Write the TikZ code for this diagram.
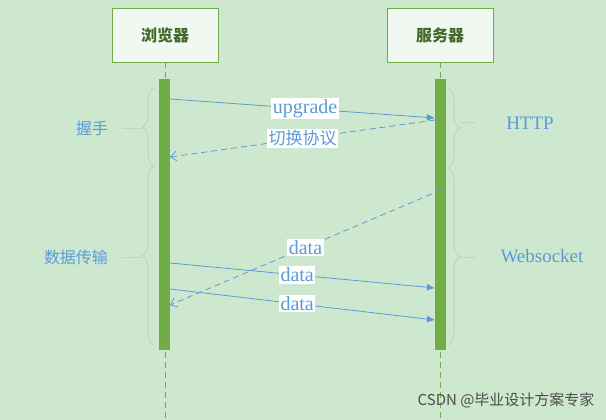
\documentclass[tikz,border=0pt]{standalone}
\usepackage{fontspec}
\setmainfont{Liberation Serif}
\newfontfamily\cjk{Noto Sans CJK SC}
\usetikzlibrary{arrows.meta,decorations.pathreplacing}
\definecolor{bg}{HTML}{CDE8CF}
\definecolor{lg}{HTML}{70AD47}
\definecolor{ab}{HTML}{5B9BD5}
\definecolor{br}{HTML}{C9CDC9}
\tikzset{
 hbox/.style={draw=lg,fill=white!70!bg,minimum width=106pt,minimum height=54pt,font=\cjk\bfseries\fontsize{16}{19}\selectfont,text=lg!60!black},
 bar/.style={fill=lg,draw=none,minimum width=11pt,inner sep=0},
 life/.style={draw=lg,dash pattern=on 6pt off 4pt,line width=0.8pt},
 msg/.style={draw=ab,-{Latex[length=8pt,width=7pt]},line width=0.8pt},
 rmsg/.style={draw=ab,dash pattern=on 6pt off 4pt,-{Straight Barb[length=6pt,width=10pt]},line width=0.8pt},
 lab/.style={fill=white,text=ab,inner sep=1.5pt,font=\fontsize{20}{22}\selectfont},
 clab/.style={fill=white,text=ab,inner sep=1.5pt,font=\cjk\fontsize{17}{20}\selectfont},
 side/.style={text=ab,font=\fontsize{19}{22}\selectfont},
 cside/.style={text=ab,font=\cjk\fontsize{16}{19}\selectfont},
 brc/.style={draw=br,line width=1pt,decorate,decoration={brace,amplitude=12pt,aspect=0.5}},
}
\begin{document}
\begin{tikzpicture}[x=1pt,y=-1pt]
\fill[bg] (0,0) rectangle (606,420);
\useasboundingbox (0,0) rectangle (606,420);
\node[hbox] (b) at (165,35) {浏览器};
\node[hbox] (s) at (440,35) {服务器};
\coordinate (be) at (165,420); \coordinate (se) at (440,420);
\draw[life] (b.south) -- (be);
\draw[life] (s.south) -- (se);
\node[bar,minimum height=271pt] (bb) at (164.5,214.5) {};
\node[bar,minimum height=271pt] (sb) at (440.5,214.5) {};
% braces
\coordinate (l1) at (154,88); \coordinate (l2) at (154,166); \coordinate (l3) at (154,345);
\draw[brc] (l2) -- (l1);
\draw[brc] (l3) -- (l2);
\coordinate (r1) at (448,88); \coordinate (r2) at (448,168); \coordinate (r3) at (448,345);
\draw[brc] (r1) -- (r2);
\draw[brc] (r2) -- (r3);
\node[cside] (hs) at (92,128) {握手};
\node[cside] (dt) at (76,257) {数据传输};
\node[side] (http) at (530,123) {HTTP};
\node[side] (ws) at (542,256) {Websocket};
\coordinate (t1) at (142,128); \coordinate (t2) at (142,257);
\coordinate (t3) at (460,122); \coordinate (t4) at (460,257);
\draw[br] (hs.east) ++(10,0) -- (t1);
\draw[br] (dt.east) ++(10,0) -- (t2);
\draw[br] (t3) -- ++(15,0);
\draw[br] (t4) -- ++(15,0);
% messages
\coordinate (a1) at (170,99); \coordinate (a2) at (435,118);
\draw[msg] (a1) -- node[lab,pos=0.51] {upgrade} (a2);
\coordinate (c1) at (435,120); \coordinate (c2) at (170,157);
\draw[rmsg] (c1) -- node[clab,pos=0.5] {切换协议} (c2);
\coordinate (d1) at (441,190); \coordinate (d2) at (170,305);
\coordinate (e1) at (170,263); \coordinate (e2) at (435,288);
\coordinate (f1) at (170,289); \coordinate (f2) at (435,320);
\draw[msg] (e1) -- node[lab,pos=0.48] {data} (e2);
\draw[msg] (f1) -- node[lab,pos=0.48] {data} (f2);
\draw[rmsg] (d1) -- node[lab,pos=0.5] {data} (d2);
\node[text=gray!60!black,font=\cjk\fontsize{15}{17}\selectfont,anchor=east] (wm) at (598,400) {CSDN @毕业设计方案专家};
\end{tikzpicture}
\end{document}
